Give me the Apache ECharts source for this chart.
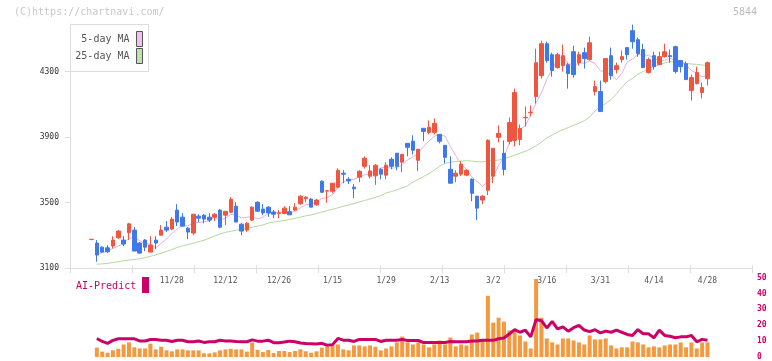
<!DOCTYPE html>
<html><head><meta charset="utf-8">
<script src="https://cdn.jsdelivr.net/npm/echarts@6/dist/echarts.min.js"></script>
<style>html,body{margin:0;padding:0;background:#fff}#c{width:772px;height:361px}</style>
</head><body><div id="c"></div>
<script>
// x-axis tick labels (shown every 10th trading day starting at index 15)
const tickLabels = ['11/28','12/12','12/26','1/15','1/29','2/13','3/2','3/16','3/31','4/14','4/28'];
const firstLabelIndex = 15;
const labelStep = 10;
const priceTicks = [3100, 3500, 3900, 4300];

const openP = [3275,3254,3229,3225,3236,3286,3272,3317,3333,3254,3272,3199,3272,3302,3351,3339,3455,3412,3345,3315,
3418,3424,3412,3412,3455,3424,3442,3479,3369,3333,3394,3503,3461,3473,3443,3434,3434,3445,3455,3493,
3524,3522,3487,3631,3571,3570,3595,3680,3643,3595,3656,3722,3662,3664,3704,3668,3765,3802,3747,3862,
3875,3759,3954,3929,3929,3917,3850,3704,3662,3674,3668,3643,3540,3516,3576,3662,3899,3801,3874,3880,
3886,4018,4049,4148,4275,4470,4403,4324,4336,4342,4421,4354,4415,4373,4178,4178,4239,4397,4312,4373,
4446,4549,4494,4434,4294,4397,4342,4391,4397,4452,4367,4348,4184,4227,4172,4257];
const closeP = [3277,3181,3199,3201,3272,3327,3248,3371,3205,3193,3229,3242,3254,3333,3333,3400,3382,3357,3321,3430,
3406,3400,3394,3430,3351,3448,3521,3382,3327,3375,3473,3448,3438,3438,3430,3438,3467,3426,3473,3540,
3534,3473,3516,3564,3573,3619,3698,3674,3633,3585,3692,3771,3694,3729,3674,3729,3722,3722,3795,3838,
3820,3826,3935,3960,3984,3875,3777,3619,3680,3735,3698,3558,3467,3540,3881,3832,3923,3703,3989,4172,
3953,4021,4051,4354,4470,4367,4306,4403,4397,4288,4281,4403,4379,4476,4208,4056,4379,4275,4336,4391,
4403,4482,4409,4324,4373,4330,4391,4421,4391,4300,4330,4251,4263,4294,4202,4354];
const lowP = [3275,3140,3195,3193,3221,3280,3236,3272,3205,3187,3205,3199,3217,3302,3321,3333,3357,3357,3278,3302,
3382,3375,3382,3388,3345,3363,3436,3382,3302,3321,3388,3448,3424,3414,3406,3406,3430,3426,3451,3487,
3503,3473,3481,3558,3499,3558,3589,3619,3613,3528,3625,3708,3649,3609,3643,3643,3704,3698,3686,3783,
3795,3692,3875,3917,3917,3862,3741,3619,3625,3662,3662,3509,3394,3491,3546,3619,3868,3667,3856,3843,
3850,3965,4026,4105,4257,4354,4269,4318,4300,4196,4263,4336,4318,4367,4154,4056,4227,4251,4288,4354,
4373,4440,4391,4324,4288,4312,4342,4385,4354,4288,4294,4251,4123,4221,4136,4215];
const highP = [3277,3272,3233,3241,3296,3333,3296,3377,3351,3260,3278,3296,3296,3363,3388,3412,3491,3436,3351,3430,
3430,3430,3436,3436,3461,3448,3534,3503,3375,3381,3479,3509,3491,3479,3455,3455,3479,3479,3497,3546,
3540,3528,3522,3637,3576,3619,3710,3698,3656,3613,3698,3783,3729,3735,3710,3747,3777,3802,3795,3862,
3911,3826,3954,4002,4014,3917,3850,3783,3698,3753,3704,3649,3540,3546,3887,3832,3972,3880,4020,4196,
3977,4087,4093,4440,4488,4482,4415,4415,4464,4354,4458,4421,4446,4513,4245,4245,4379,4446,4354,4428,
4446,4586,4507,4470,4385,4421,4421,4470,4434,4458,4367,4361,4281,4330,4233,4361];

const ma5 = [null,3188,3196,3205,3222,3236,3249,3284,3285,3269,3249,3248,3225,3252,3278,3312,3340,3361,3359,3378,
3379,3383,3390,3412,3396,3405,3429,3426,3406,3411,3416,3401,3412,3434,3445,3438,3442,3440,3447,3469,
3488,3489,3507,3525,3532,3549,3594,3626,3640,3642,3656,3671,3675,3694,3712,3719,3710,3715,3728,3761,
3779,3800,3843,3876,3905,3916,3906,3843,3787,3737,3702,3658,3628,3600,3629,3656,3729,3776,3866,3924,
3948,3968,4037,4110,4170,4253,4310,4380,4389,4352,4335,4354,4350,4365,4349,4304,4300,4279,4251,4287,
4357,4377,4404,4402,4398,4384,4365,4368,4381,4367,4367,4339,4307,4288,4268,4273];
const ma25 = [null,3125,3127,3130,3135,3140,3146,3150,3154,3158,3165,3173,3182,3192,3203,3214,3227,3237,3245,3253,
3262,3271,3284,3297,3310,3319,3326,3332,3338,3345,3351,3357,3364,3376,3382,3387,3392,3398,3405,3412,
3420,3426,3434,3443,3452,3460,3469,3478,3486,3495,3505,3514,3523,3533,3543,3560,3568,3578,3590,3603,
3625,3642,3660,3678,3700,3722,3740,3747,3751,3754,3756,3754,3750,3749,3755,3756,3760,3768,3778,3790,
3802,3814,3828,3848,3870,3895,3913,3930,3945,3958,3972,3985,4000,4022,4060,4085,4105,4130,4165,4205,
4238,4258,4284,4300,4320,4330,4342,4352,4360,4360,4355,4350,4346,4344,4340,4336];

const volume = [null,5.9,3.4,2.7,4.2,5.2,7.9,9.2,6.1,5.4,5.4,8.4,4.8,6.5,4.2,3.6,4.8,4.8,4.2,4.2,
4.2,2.3,2.3,2.9,4.2,4.8,5.2,4.8,4.8,3.4,9.2,4.5,3.1,4.4,2.5,3.8,3.8,3.1,3.8,4.8,
3.6,2.7,3.6,5.9,6.5,7.3,7.9,4.8,4.2,7.3,7.3,6.7,7.3,6.5,4.2,5.4,6.7,9.2,12.9,9.2,
7.9,9.2,7.9,6.1,7.9,10.4,7.9,12.3,6.7,7.9,7.3,14.2,15.4,11.1,38.6,21.7,24.8,22.3,16.7,17.3,
13.6,9.8,5.4,49.2,24.8,11.7,9.2,7.9,11.7,11.7,10.4,9.2,7.9,13.6,11.1,11.1,11.7,7.3,5.4,6.1,
6.1,9.8,9.2,7.9,6.1,6.7,6.1,7.3,7.9,7.9,9.2,6.1,9.2,5.4,9.2,9.2];
const predict = [null,11.7,9.8,8.6,10.5,11.5,11.5,11.5,11.5,10.1,10.1,11.0,11.0,10.6,10.6,9.8,10.6,10.6,9.6,9.6,
10.1,9.2,9.6,9.6,10.6,10.1,10.1,9.8,9.6,9.6,10.8,10.0,10.0,10.6,9.0,9.0,9.4,10.0,9.6,8.8,
8.5,8.4,8.2,8.6,7.4,7.8,11.7,10.6,10.6,9.8,11.1,11.1,11.1,11.1,9.8,10.6,10.6,10.6,11.1,10.4,
10.4,10.4,9.1,9.1,9.1,9.1,9.1,9.8,9.6,9.6,9.6,10.1,10.1,10.5,10.5,10.5,11.5,12.0,14.5,17.3,
15.6,16.9,12.7,23.6,22.9,18.3,22.5,17.7,19.0,16.3,18.5,20.0,17.0,16.0,17.2,15.2,16.3,15.6,16.9,15.6,
14.2,13.6,17.3,14.6,14.6,12.1,16.9,13.6,13.1,12.1,12.7,12.7,13.6,9.6,11.1,10.5];

const categories = openP.map((_, i) => String(i));
const candleData = openP.map((o, i) => [o, closeP[i], lowP[i], highP[i]]);
const isLabel = (i) => { const k = i - firstLabelIndex; return k >= 0 && k % labelStep === 0; };

const MONO = 'DejaVu Sans Mono';
const UP = '#f0553f', DOWN = '#3f78e8', AXIS = '#dddddd', MAG = '#cc0066';

const chart = echarts.init(document.getElementById('c'), null, {renderer: 'canvas'});
chart.setOption({
  animation: false,
  backgroundColor: '#ffffff',
  grid: [
    {left: 70, right: 20, top: 24, bottom: 92.7},
    {left: 91.5, right: 64.5, top: 24, bottom: 92.7},
    {left: 91.5, right: 64.5, top: 277.7, bottom: 3.3}
  ],
  xAxis: [
    {gridIndex: 0, type: 'value', min: 0, max: 11, interval: 1,
     axisLine: {show: true, lineStyle: {color: AXIS, width: 1}},
     axisTick: {show: true, length: 5, lineStyle: {color: AXIS}},
     axisLabel: {show: false}, splitLine: {show: false}},
    {gridIndex: 0, type: 'value', min: 0, max: 11, interval: 1, position: 'bottom',
     axisLine: {show: false},
     axisTick: {show: true, inside: true, length: 3, lineStyle: {color: AXIS}},
     axisLabel: {show: false}, splitLine: {show: false}},
    {gridIndex: 1, type: 'category', data: categories, boundaryGap: false,
     axisLine: {show: false}, axisTick: {show: false}, splitLine: {show: false},
     axisLabel: {show: true, interval: (idx) => isLabel(idx),
       formatter: (v, idx) => tickLabels[(idx - firstLabelIndex) / labelStep],
       color: '#555', fontSize: 8, fontFamily: MONO, margin: 9}},
    {gridIndex: 2, type: 'category', data: categories, boundaryGap: false, show: false}
  ],
  yAxis: [
    {gridIndex: 0, type: 'value', min: 3100, max: 4590,
     axisLine: {show: true, lineStyle: {color: AXIS, width: 1}},
     axisTick: {show: true, length: 5, lineStyle: {color: AXIS}, customValues: priceTicks},
     axisLabel: {show: true, customValues: priceTicks, formatter: (v) => String(v),
       color: '#333', fontSize: 8, fontFamily: MONO, margin: 11},
     splitLine: {show: false}},
    {gridIndex: 1, type: 'value', min: 3100, max: 4590, show: false, splitLine: {show: false}},
    {gridIndex: 2, type: 'value', min: 0, max: 50, interval: 10, position: 'right', offset: 44.5,
     axisLine: {show: false}, axisTick: {show: false}, splitLine: {show: false},
     axisLabel: {show: true, color: MAG, fontSize: 8, fontFamily: MONO, fontWeight: 'bold', margin: 5}}
  ],
  series: [
    {name: '5-day MA', type: 'line', xAxisIndex: 2, yAxisIndex: 1, data: ma5, showSymbol: false,
     lineStyle: {width: 1, color: '#e6aee6'}, itemStyle: {color: '#e6aee6'}, z: 2, silent: true},
    {name: '25-day MA', type: 'line', xAxisIndex: 2, yAxisIndex: 1, data: ma25, showSymbol: false,
     lineStyle: {width: 1, color: '#b0d9a0'}, itemStyle: {color: '#b0d9a0'}, z: 2, silent: true},
    {name: 'price', type: 'candlestick', xAxisIndex: 2, yAxisIndex: 1, data: candleData,
     barWidth: 4, clip: false, z: 3,
     itemStyle: {color: UP, color0: DOWN, borderColor: UP, borderColor0: DOWN, borderWidth: 1}},
    {name: 'volume', type: 'bar', xAxisIndex: 3, yAxisIndex: 2, data: volume, barWidth: 4, clip: false,
     itemStyle: {color: '#f39a40'}, z: 2},
    {name: 'AI-Predict', type: 'line', xAxisIndex: 3, yAxisIndex: 2, data: predict, showSymbol: false,
     lineStyle: {width: 3, color: MAG}, itemStyle: {color: MAG}, z: 3}
  ],
  graphic: [
    {type: 'text', x: 14, y: 12, z: 10, style: {text: '(C)https://chartnavi.com/', fill: '#c8c8c8', font: '10px ' + MONO, verticalAlign: 'middle'}},
    {type: 'text', x: 757, y: 12, z: 10, style: {text: '5844', fill: '#bbbbbb', font: '10px ' + MONO, align: 'right', verticalAlign: 'middle'}},
    {type: 'rect', z: 10, shape: {x: 70.5, y: 24.5, width: 78, height: 47}, style: {fill: '#ffffff', stroke: '#dddddd', lineWidth: 1}},
    {type: 'text', x: 129.5, y: 39, z: 11, style: {text: '5-day MA', fill: '#555', font: '10px ' + MONO, align: 'right', verticalAlign: 'middle'}},
    {type: 'text', x: 129.5, y: 56, z: 11, style: {text: '25-day MA', fill: '#555', font: '10px ' + MONO, align: 'right', verticalAlign: 'middle'}},
    {type: 'rect', z: 11, shape: {x: 136.5, y: 31.5, width: 6, height: 15}, style: {fill: '#f0c0f0', stroke: '#555', lineWidth: 1}},
    {type: 'rect', z: 11, shape: {x: 136.5, y: 48.5, width: 6, height: 15}, style: {fill: '#c0e0b0', stroke: '#555', lineWidth: 1}},
    {type: 'text', x: 76, y: 286, z: 10, style: {text: 'AI-Predict', fill: MAG, font: '10px ' + MONO, verticalAlign: 'middle'}},
    {type: 'rect', z: 10, shape: {x: 142, y: 277, width: 7, height: 16}, style: {fill: MAG}}
  ]
});
</script>
</body></html>
